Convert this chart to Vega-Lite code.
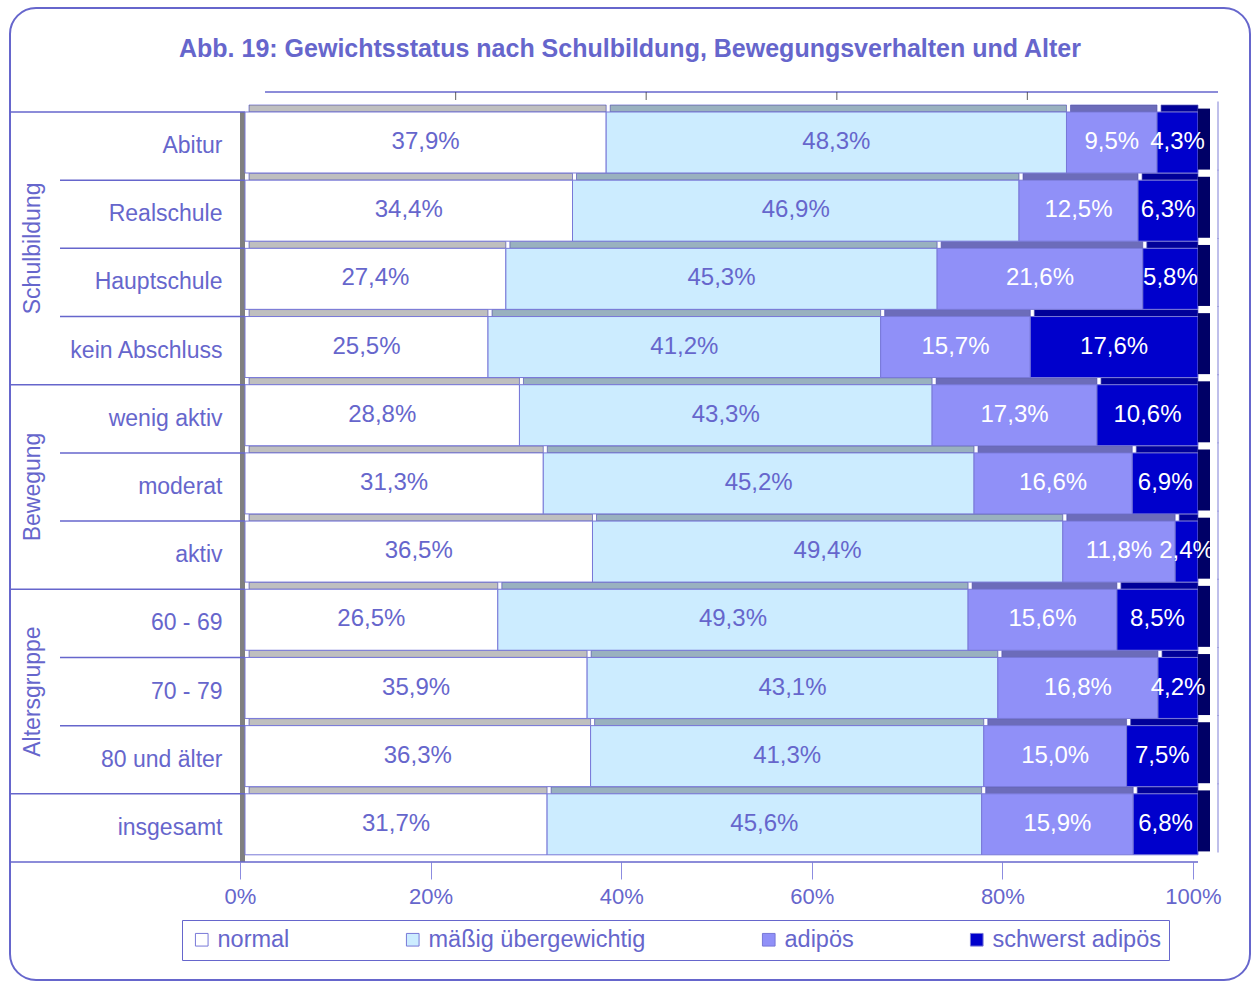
{
  "$schema": "https://vega.github.io/schema/vega-lite/v6.json",
  "width": 1240,
  "height": 972,
  "autosize": {"type": "none"},
  "padding": {"left": 10, "top": 8, "right": 4, "bottom": 2},
  "background": "white",
  "title": {
    "text": "Abb. 19: Gewichtsstatus nach Schulbildung, Bewegungsverhalten und  Alter",
    "anchor": "middle",
    "frame": "group",
    "offset": -54,
    "color": "#6666CC",
    "font": "Liberation Sans",
    "fontSize": 25,
    "fontWeight": "bold"
  },
  "config": {
    "font": "Liberation Sans",
    "view": {"stroke": "#6666CC", "strokeWidth": 2, "cornerRadius": 26},
    "axisY": {"offset": -235, "labelPadding": 23, "ticks": false, "domain": false, "grid": false, "labelFontSize": 23, "labelColor": "#6666CC", "labelFont": "Liberation Sans", "labelLimit": 400},
    "axisX": {"offset": -118, "tickOffset": -5, "tickSize": 17, "tickColor": "#8C8CE0", "domain": false, "grid": false, "labelPadding": 7, "labelFontSize": 22, "labelColor": "#6666CC", "labelFont": "Liberation Sans", "labelFlush": false, "labelOverlap": false}
  },
  "datasets": {
    "bars": [
      {"cat": "Abitur", "status": "normal", "pct": 37.9},
      {"cat": "Abitur", "status": "mäßig übergewichtig", "pct": 48.3},
      {"cat": "Abitur", "status": "adipös", "pct": 9.5},
      {"cat": "Abitur", "status": "schwerst adipös", "pct": 4.3},
      {"cat": "Realschule", "status": "normal", "pct": 34.4},
      {"cat": "Realschule", "status": "mäßig übergewichtig", "pct": 46.9},
      {"cat": "Realschule", "status": "adipös", "pct": 12.5},
      {"cat": "Realschule", "status": "schwerst adipös", "pct": 6.3},
      {"cat": "Hauptschule", "status": "normal", "pct": 27.4},
      {"cat": "Hauptschule", "status": "mäßig übergewichtig", "pct": 45.3},
      {"cat": "Hauptschule", "status": "adipös", "pct": 21.6},
      {"cat": "Hauptschule", "status": "schwerst adipös", "pct": 5.8},
      {"cat": "kein Abschluss", "status": "normal", "pct": 25.5},
      {"cat": "kein Abschluss", "status": "mäßig übergewichtig", "pct": 41.2},
      {"cat": "kein Abschluss", "status": "adipös", "pct": 15.7},
      {"cat": "kein Abschluss", "status": "schwerst adipös", "pct": 17.6},
      {"cat": "wenig aktiv", "status": "normal", "pct": 28.8},
      {"cat": "wenig aktiv", "status": "mäßig übergewichtig", "pct": 43.3},
      {"cat": "wenig aktiv", "status": "adipös", "pct": 17.3},
      {"cat": "wenig aktiv", "status": "schwerst adipös", "pct": 10.6},
      {"cat": "moderat", "status": "normal", "pct": 31.3},
      {"cat": "moderat", "status": "mäßig übergewichtig", "pct": 45.2},
      {"cat": "moderat", "status": "adipös", "pct": 16.6},
      {"cat": "moderat", "status": "schwerst adipös", "pct": 6.9},
      {"cat": "aktiv", "status": "normal", "pct": 36.5},
      {"cat": "aktiv", "status": "mäßig übergewichtig", "pct": 49.4},
      {"cat": "aktiv", "status": "adipös", "pct": 11.8},
      {"cat": "aktiv", "status": "schwerst adipös", "pct": 2.4},
      {"cat": "60 - 69", "status": "normal", "pct": 26.5},
      {"cat": "60 - 69", "status": "mäßig übergewichtig", "pct": 49.3},
      {"cat": "60 - 69", "status": "adipös", "pct": 15.6},
      {"cat": "60 - 69", "status": "schwerst adipös", "pct": 8.5},
      {"cat": "70 - 79", "status": "normal", "pct": 35.9},
      {"cat": "70 - 79", "status": "mäßig übergewichtig", "pct": 43.1},
      {"cat": "70 - 79", "status": "adipös", "pct": 16.8},
      {"cat": "70 - 79", "status": "schwerst adipös", "pct": 4.2},
      {"cat": "80 und älter", "status": "normal", "pct": 36.3},
      {"cat": "80 und älter", "status": "mäßig übergewichtig", "pct": 41.3},
      {"cat": "80 und älter", "status": "adipös", "pct": 15.0},
      {"cat": "80 und älter", "status": "schwerst adipös", "pct": 7.5},
      {"cat": "insgesamt", "status": "normal", "pct": 31.7},
      {"cat": "insgesamt", "status": "mäßig übergewichtig", "pct": 45.6},
      {"cat": "insgesamt", "status": "adipös", "pct": 15.9},
      {"cat": "insgesamt", "status": "schwerst adipös", "pct": 6.8}
    ],
    "cats": [
      {"cat": "Abitur"}, {"cat": "Realschule"}, {"cat": "Hauptschule"}, {"cat": "kein Abschluss"},
      {"cat": "wenig aktiv"}, {"cat": "moderat"}, {"cat": "aktiv"},
      {"cat": "60 - 69"}, {"cat": "70 - 79"}, {"cat": "80 und älter"}, {"cat": "insgesamt"}
    ],
    "grid": [{"cat": "Abitur", "v": 0.2}, {"cat": "Abitur", "v": 0.4}, {"cat": "Abitur", "v": 0.6}, {"cat": "Abitur", "v": 0.8}]
  },
  "layer": [
    {
      "data": {"name": "cats"},
      "mark": {"type": "bar", "color": "#808080", "height": {"band": 1}},
      "encoding": {
        "y": {"field": "cat", "type": "nominal", "title": null,
              "scale": {"domain": ["Abitur", "Realschule", "Hauptschule", "kein Abschluss", "wenig aktiv", "moderat", "aktiv", "60 - 69", "70 - 79", "80 und älter", "insgesamt"], "range": [104, 854], "paddingInner": 0, "paddingOuter": 0}},
        "x": {"datum": -0.00525, "scale": {"domain": [0, 1], "range": [235, 1188], "nice": false, "zero": false},
              "axis": {"values": [0, 0.2, 0.4, 0.6, 0.8, 1], "format": ".0%", "title": null}},
        "x2": {"datum": 0}
      }
    },
    {
      "data": {"name": "cats"},
      "mark": {"type": "tick", "orient": "vertical", "color": "#6666CC", "size": 69, "thickness": 1.2, "yOffset": -10},
      "encoding": {
        "y": {"field": "cat", "type": "nominal", "title": null},
        "x": {"datum": 1.02099}
      }
    },
    {
      "data": {"values": [{"cat": "Abitur"}]},
      "mark": {"type": "rule", "color": "#6666CC", "strokeWidth": 1.5, "yOffset": -20},
      "encoding": {
        "y": {"field": "cat", "type": "nominal", "title": null, "bandPosition": 0},
        "x": {"datum": 0.021},
        "x2": {"datum": 1.02099}
      }
    },
    {
      "data": {"name": "grid"},
      "mark": {"type": "tick", "orient": "vertical", "color": "#404040", "size": 8, "thickness": 1.2, "yOffset": -50, "xOffset": 20},
      "encoding": {
        "y": {"field": "cat", "type": "nominal", "title": null},
        "x": {"field": "v", "type": "quantitative", "title": null}
      }
    },
    {
      "data": {"values": [{"cat": "Abitur"}, {"cat": "wenig aktiv"}, {"cat": "60 - 69"}, {"cat": "insgesamt"}]},
      "mark": {"type": "rule", "color": "#6666CC", "strokeWidth": 1.5},
      "encoding": {
        "y": {"field": "cat", "type": "nominal", "title": null, "bandPosition": 0},
        "x": {"datum": -0.24659},
        "x2": {"datum": 0}
      }
    },
    {
      "data": {"values": [{"cat": "Realschule"}, {"cat": "Hauptschule"}, {"cat": "kein Abschluss"}, {"cat": "moderat"}, {"cat": "aktiv"}, {"cat": "70 - 79"}, {"cat": "80 und älter"}]},
      "mark": {"type": "rule", "color": "#6666CC", "strokeWidth": 1.5},
      "encoding": {
        "y": {"field": "cat", "type": "nominal", "title": null, "bandPosition": 0},
        "x": {"datum": -0.19412},
        "x2": {"datum": 0}
      }
    },
    {
      "data": {"values": [{"cat": "insgesamt"}]},
      "mark": {"type": "rule", "color": "#6666CC", "strokeWidth": 1.5},
      "encoding": {
        "y": {"field": "cat", "type": "nominal", "title": null, "bandPosition": 1},
        "x": {"datum": -0.24659},
        "x2": {"datum": 1}
      }
    },
    {
      "data": {"name": "bars"},
      "transform": [
        {"stack": "pct", "groupby": ["cat"], "offset": "normalize", "as": ["x0", "x1"]},
        {"calculate": "(datum.x0 + datum.x1) / 2", "as": "xm"},
        {"calculate": "replace(format(datum.pct, '.1f'), '.', ',') + '%'", "as": "lbl"}
      ],
      "layer": [
        {
          "mark": {"type": "bar", "height": 7, "yOffset": -37.6, "xOffset": 4, "stroke": "#7878D8", "strokeWidth": 0.8},
          "encoding": {
            "y": {"field": "cat", "type": "nominal", "title": null},
            "x": {"field": "x0", "type": "quantitative", "title": null},
            "x2": {"field": "x1"},
            "color": {"field": "status", "type": "nominal"}
          }
        },
        {
          "mark": {"type": "bar", "height": 7, "yOffset": -37.6, "xOffset": 4, "color": "#000000", "opacity": 0.25},
          "encoding": {
            "y": {"field": "cat", "type": "nominal", "title": null},
            "x": {"field": "x0", "type": "quantitative", "title": null},
            "x2": {"field": "x1"}
          }
        },
        {
          "mark": {"type": "bar", "height": 61, "yOffset": -3.6, "stroke": "#7878D8", "strokeWidth": 1},
          "encoding": {
            "y": {"field": "cat", "type": "nominal", "title": null},
            "x": {"field": "x0", "type": "quantitative", "title": null},
            "x2": {"field": "x1"},
            "color": {"field": "status", "type": "nominal",
                      "scale": {"domain": ["normal", "mäßig übergewichtig", "adipös", "schwerst adipös"], "range": ["#FFFFFF", "#CCECFF", "#9090F8", "#0000CC"]},
                      "legend": {"title": null, "orient": "none", "legendX": 172, "legendY": 912, "direction": "horizontal", "columns": 4, "gridAlign": "none", "columnPadding": 111, "symbolType": "square", "symbolSize": 160, "symbolStrokeWidth": 1, "labelFontSize": 23.5, "labelColor": "#6666CC", "labelFont": "Liberation Sans", "labelOffset": 4, "labelLimit": 400, "padding": 8, "strokeColor": "#6666CC", "fillColor": "white"}}
          }
        },
        {
          "transform": [{"filter": "datum.status === 'schwerst adipös'"}],
          "mark": {"type": "bar", "height": 61, "yOffset": -7, "color": "#000066"},
          "encoding": {
            "y": {"field": "cat", "type": "nominal", "title": null},
            "x": {"datum": 1},
            "x2": {"datum": 1.01259}
          }
        },
        {
          "mark": {"type": "text", "fontSize": 24, "font": "Liberation Sans", "align": "center", "baseline": "middle", "yOffset": -4},
          "encoding": {
            "y": {"field": "cat", "type": "nominal", "title": null},
            "x": {"field": "xm", "type": "quantitative", "title": null},
            "text": {"field": "lbl"},
            "color": {"condition": {"test": "datum.status === 'adipös' || datum.status === 'schwerst adipös'", "value": "#FFFFFF"}, "value": "#6666CC"}
          }
        }
      ]
    },
    {
      "data": {"values": [{"g": "Schulbildung", "cat": "Hauptschule"}]},
      "mark": {"type": "text", "angle": 270, "fontSize": 23, "font": "Liberation Sans", "color": "#6666CC", "align": "center", "baseline": "middle"},
      "encoding": {
        "y": {"field": "cat", "type": "nominal", "title": null, "bandPosition": 0},
        "x": {"datum": -0.22246},
        "text": {"field": "g"}
      }
    },
    {
      "data": {"values": [{"g": "Bewegung", "cat": "moderat"}, {"g": "Altersgruppe", "cat": "70 - 79"}]},
      "mark": {"type": "text", "angle": 270, "fontSize": 23, "font": "Liberation Sans", "color": "#6666CC", "align": "center", "baseline": "middle"},
      "encoding": {
        "y": {"field": "cat", "type": "nominal", "title": null},
        "x": {"datum": -0.22246},
        "text": {"field": "g"}
      }
    }
  ]
}
